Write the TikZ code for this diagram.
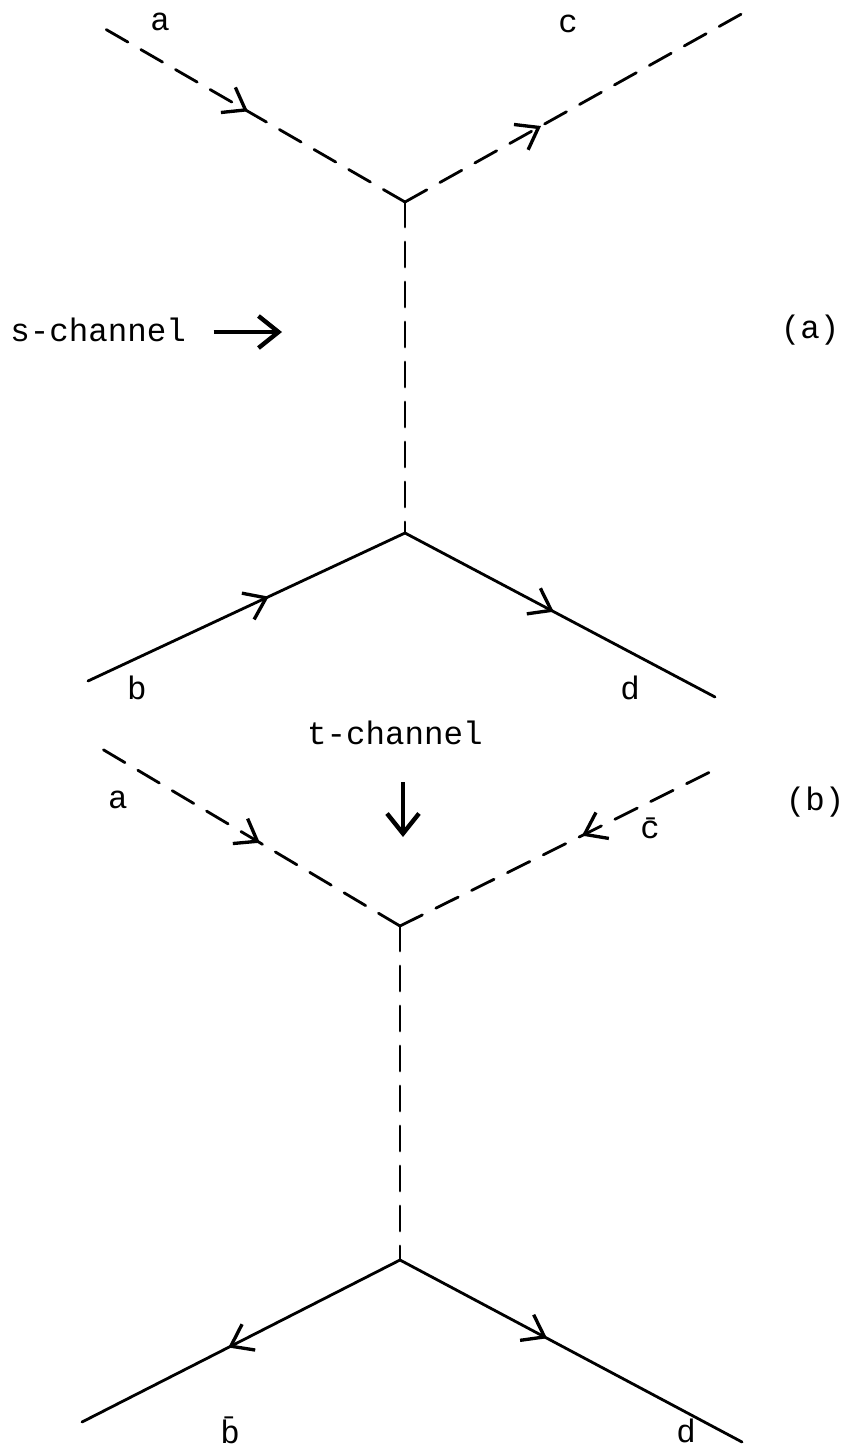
\documentclass[tikz,border=0pt]{standalone}
\usepackage{fontspec}
\setmainfont{Liberation Mono}
\usetikzlibrary{arrows.meta,decorations.markings}

\begin{document}
\begin{tikzpicture}[
    x=0.02cm, y=-0.02cm,
    >={Straight Barb[length=4mm, width=5.8mm, line width=1.9pt]},
    lbl/.style={font=\fontsize{18.5}{21}\selectfont, inner sep=0pt},
    fermion/.style={line width=1.6pt, line cap=round},
    scalar/.style={fermion, dash pattern=on 0.5cm off 0.3cm},
    away/.style={postaction={decorate, solid, decoration={markings,
        mark=at position #1 with {\arrow{>}}}}},
    toward/.style={postaction={decorate, solid, decoration={markings,
        mark=at position #1 with {\arrowreversed{>}}}}},
    bigarrow/.style={-{Straight Barb[length=4mm, width=6.4mm]}, line width=2.5pt}
  ]
    \useasboundingbox (0,0) rectangle (858,1450);

    % (a)
    \coordinate (A1) at (405,202);
    \coordinate (A2) at (405,533);
    \coordinate (ain) at (100,26);
    \coordinate (cout) at (745,12);
    \coordinate (bin) at (88,681);
    \coordinate (dout) at (715,697);
    \node[lbl] (la) at (160,22) {a};
    \node[lbl] (lc) at (568,24) {c};
    \node[lbl] (lb) at (137,688) {b};
    \node[lbl] (ld) at (630,688) {d};
    \node[lbl, anchor=west] (schan) at (10,330) {s-channel};
    \coordinate (send) at (282,332);
    \node[lbl] (tagA) at (810,330) {(a)};
    \draw[scalar, toward=0.515] (A1) -- (ain);
    \draw[scalar, away=0.40] (A1) -- (cout);
    \draw[scalar] (A1) -- (A2);
    \draw[fermion, toward=0.43] (A2) -- (bin);
    \draw[fermion, away=0.48] (A2) -- (dout);
    \draw[bigarrow, shorten <=0.55cm] (schan.east |- send) -- (send);

    % (b)
    \node[lbl] (tchan) at (395,733) {t-channel};
    \coordinate (tend) at (403,837);
    \coordinate (B1) at (400,926);
    \coordinate (B2) at (400,1260);
    \coordinate (ain2) at (92,743);
    \coordinate (cbar) at (710,772);
    \coordinate (bbar) at (82,1422);
    \coordinate (dout2) at (742,1442);
    \node[lbl] (la2) at (118,800) {a};
    \node[lbl] (lcbar) at (650,828) {\=c};
    \node[lbl] (lbbar) at (230,1430) {\=b};
    \node[lbl] (ld2) at (686,1431) {d};
    \node[lbl] (tagB) at (815,802) {(b)};
    \draw[bigarrow, shorten <=0.74cm] (tchan.south -| tend) -- (tend);
    \draw[scalar, toward=0.455] (B1) -- (ain2);
    \draw[scalar, toward=0.587] (B1) -- (cbar);
    \draw[scalar] (B1) -- (B2);
    \draw[fermion, away=0.54] (B2) -- (bbar);
    \draw[fermion, away=0.43] (B2) -- (dout2);
\end{tikzpicture}
\end{document}
